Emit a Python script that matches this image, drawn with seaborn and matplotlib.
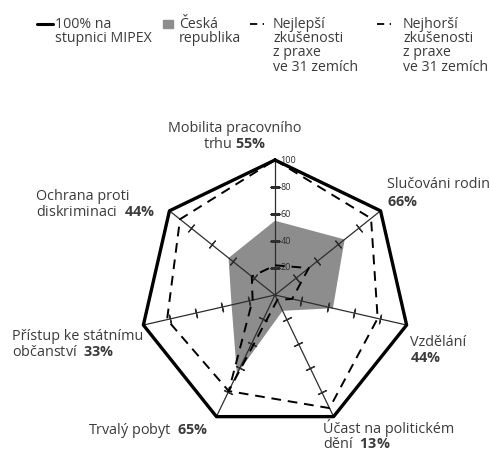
import numpy as np
import pandas as pd
import matplotlib
matplotlib.use('Agg')
import matplotlib.pyplot as plt
from matplotlib.lines import Line2D
from matplotlib.patches import Rectangle
import seaborn as sns

# MIPEX oblasti, po směru hodinových ručiček od horní osy
categories = ['Mobilita pracovního trhu', 'Slučováni rodin', 'Vzdělání',
              'Účast na politickém dění', 'Trvalý pobyt',
              'Přístup ke státnímu občanství', 'Ochrana proti diskriminaci']
czech = [55, 66, 44, 13, 65, 33, 44]
best = [100, 91, 78, 93, 79, 82, 90]
worst = [22, 32, 13, 4, 79, 17, 22]
full_scale = [100, 100, 100, 100, 100, 100, 100]
ring_ticks = [20, 40, 60, 80]
scale_labels = [20, 40, 60, 80, 100]

sns.set_theme(style='white')
plt.rcParams['font.family'] = ['Open Sans', 'DejaVu Sans']
plt.rcParams['mathtext.fontset'] = 'custom'
plt.rcParams['mathtext.rm'] = 'Open Sans'
plt.rcParams['mathtext.bf'] = 'Open Sans:bold'

W, H = 490, 451
fig = plt.figure(figsize=(W / 100, H / 100), dpi=100)
fig.patch.set_facecolor('white')


def px(x, y):
    return x / W, 1 - y / H


# radar: střed (275, 295) px, poloměr 135 px
cx, cy, rad = 275, 295, 135
ax = fig.add_axes([(cx - rad) / W, (H - cy - rad) / H, 2 * rad / W, 2 * rad / H],
                  projection='polar')
ax.set_theta_zero_location('N')
ax.set_theta_direction(-1)
ax.set_ylim(0, 100)
ax.axis('off')

n = len(categories)
theta = np.arange(n) * 2 * np.pi / n
theta_c = np.append(theta, theta[0])


def closed(v):
    return np.append(v, v[0])


# šedá plocha - Česká republika
ax.fill(theta_c, closed(czech), color='#8d8d8d', lw=0, zorder=1)

# osy s čárkami
ink = '#2e2e2e'
for t in theta:
    ax.plot([t, t], [0, 100], color=ink, lw=0.9, zorder=2, clip_on=False)
    deg = np.degrees(t)
    ax.plot([t] * len(ring_ticks), ring_ticks, ls='none',
            marker=(2, 2, 90 - deg), ms=7, mew=0.9, mec=ink, zorder=2)

df = pd.DataFrame({
    'theta': np.concatenate([theta_c] * 3),
    'r': np.concatenate([closed(full_scale), closed(best), closed(worst)]),
    'serie': ['full'] * (n + 1) + ['best'] * (n + 1) + ['worst'] * (n + 1),
})
sns.lineplot(data=df[df.serie == 'full'], x='theta', y='r', sort=False,
             estimator=None, color='black', lw=2.4, ax=ax, zorder=4, clip_on=False)
for s in ['best', 'worst']:
    sns.lineplot(data=df[df.serie == s], x='theta', y='r', sort=False,
                 estimator=None, color='black', lw=1.4, dashes=False,
                 ax=ax, zorder=3, clip_on=False)
for line in ax.lines[-2:]:
    line.set_linestyle((0, (5, 3.5)))
ax.set_ylim(0, 100)
ax.axis('off')

# popisky stupnice na horní ose
for v in scale_labels:
    ax.annotate(str(v), xy=(0, v), xytext=(4, 0), textcoords='offset points',
                fontsize=6.5, color=ink, va='center', ha='left',
                annotation_clip=False)

# popisky oblastí
txt = dict(fontsize=10.4, color='#3b3b3b')
lab = [
    ('Mobilita pracovního', 235, 128, 'center'),
    (r'trhu $\mathbf{55\%}$', 235, 145, 'center'),
    ('Slučováni rodin', 387, 185, 'left'),
    (r'$\mathbf{66\%}$', 387, 202, 'left'),
    ('Vzdělání', 410, 342, 'left'),
    (r'$\mathbf{44\%}$', 410, 358, 'left'),
    ('Účast na politickém', 323, 428, 'left'),
    (r'dění  $\mathbf{13\%}$', 323, 444, 'left'),
    (r'Trvalý pobyt  $\mathbf{65\%}$', 208, 430, 'right'),
    ('Přístup ke státnímu', 12, 336, 'left'),
    (r'občanství  $\mathbf{33\%}$', 12, 352, 'left'),
    ('Ochrana proti', 36, 197, 'left'),
    (r'diskriminaci  $\mathbf{44\%}$', 36, 213, 'left'),
]
for s, x, y, ha in lab:
    fig.text(*px(x, y), s, ha=ha, va='center', **txt)

# legenda
leg = dict(fontsize=10.2, color='#3b3b3b', va='center', ha='left')
fig.add_artist(Line2D([px(37, 0)[0], px(53, 0)[0]], [px(0, 24)[1]] * 2,
                      color='black', lw=2.2, transform=fig.transFigure))
fig.text(*px(55, 24), '100% na', **leg)
fig.text(*px(55, 38.5), 'stupnici MIPEX', **leg)

fig.add_artist(Rectangle(px(163, 28), 10 / W, 8 / H, color='#8d8d8d',
                         transform=fig.transFigure))
fig.text(*px(179, 24), 'Česká', **leg)
fig.text(*px(179, 38.5), 'republika', **leg)

for x0, xt, word in [(250, 273, 'Nejlepší'), (377, 403, 'Nejhorší')]:
    fig.add_artist(Line2D([px(x0, 0)[0], px(x0 + 14, 0)[0]], [px(0, 24)[1]] * 2,
                          color='black', lw=1.3, ls=(0, (4, 3)),
                          transform=fig.transFigure))
    for i, s in enumerate([word, 'zkušenosti', 'z praxe', 've 31 zemích']):
        fig.text(*px(xt, 24 + i * 14.5), s, **leg)

fig.savefig('out.png', dpi=100, facecolor='white')
